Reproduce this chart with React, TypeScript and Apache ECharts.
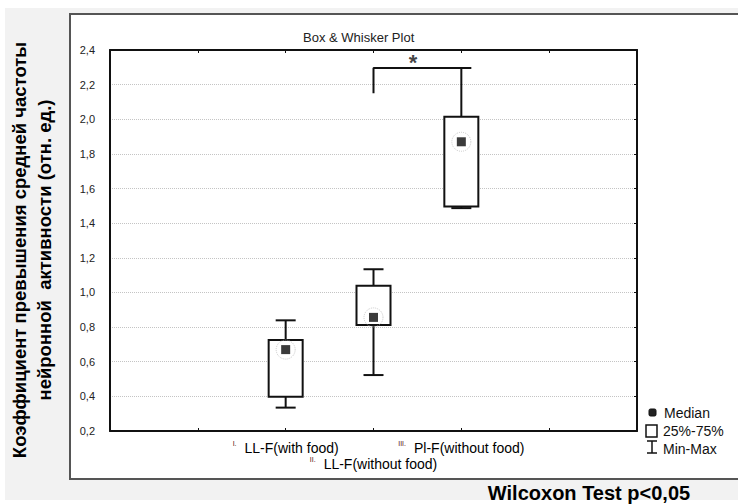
import React, { useEffect, useRef } from "react";
import * as echarts from "echarts";

// Group positions on the numeric x scale (0..6) and their labels
const positions = [2, 3, 4];
const romans = ["I.", "II.", "III."];
const categories = ["LL-F(with food)", "LL-F(without food)", "Pl-F(without food)"];

// Five-number summaries per group
const mins = [0.335, 0.523, 1.487];
const q1s = [0.398, 0.812, 1.497];
const medians = [0.67, 0.856, 1.87];
const q3s = [0.725, 1.039, 2.015];
const maxs = [0.839, 1.134, 2.296];

// Significance bracket between groups II and III
const bracketX = [3, 3, 4.1];
const bracketY = [2.15, 2.296, 2.296];
const starPoint = [3.45, 2.33];

const yMin = 0.2;
const yMax = 2.4;
const yStep = 0.2;

const FONT = "'Liberation Sans', Arial, sans-serif";

export default function App() {
  const ref = useRef<HTMLDivElement>(null);

  useEffect(() => {
    if (!ref.current) return;
    const chart = echarts.init(ref.current, null, { renderer: "svg" });

    const boxData = positions.map((p, i) => [p, mins[i], q1s[i], medians[i], q3s[i], maxs[i]]);
    const medianData = positions.map((p, i) => [p, medians[i]]);
    const bracketData = bracketX.map((x, i) => [x, bracketY[i]]);

    const labelFor = (idx: number) => `{r|${romans[idx]}}{t|${categories[idx]}}`;
    const richLabels = {
      r: { fontSize: 7, color: "#5a0f0f", verticalAlign: "top", padding: [0, 8, 8, 0], fontFamily: FONT },
      t: { fontSize: 14, color: "#000", fontFamily: FONT },
    };

    const option: any = {
      animation: false,
      textStyle: { fontFamily: FONT },
      title: {
        text: "Box & Whisker Plot",
        left: 298,
        top: 26,
        textStyle: { fontSize: 13, fontWeight: "normal", color: "#222", fontFamily: FONT },
      },
      grid: { left: 110, right: 101, top: 50, bottom: 73 },
      xAxis: [
        {
          type: "value",
          position: "bottom",
          min: 0,
          max: 6,
          interval: 1,
          axisLine: { show: true, onZero: false, lineStyle: { color: "#111", width: 2 } },
          axisTick: { show: true, inside: true, length: 3, lineStyle: { color: "#111" } },
          splitLine: { show: false },
          axisLabel: {
            margin: 9,
            rich: richLabels,
            formatter: (v: number) => {
              if (v === positions[0]) return labelFor(0);
              if (v === positions[2]) return labelFor(2);
              return "";
            },
          },
        },
        {
          type: "value",
          position: "top",
          min: 0,
          max: 6,
          interval: 1,
          axisLine: { show: true, onZero: false, lineStyle: { color: "#111", width: 2 } },
          axisTick: { show: true, inside: true, length: 3, lineStyle: { color: "#111" } },
          splitLine: { show: false },
          axisLabel: { show: false },
        },
        {
          type: "value",
          position: "bottom",
          min: 0,
          max: 6,
          interval: 1,
          axisLine: { show: false, onZero: false },
          axisTick: { show: false },
          splitLine: { show: false },
          axisLabel: {
            margin: 25,
            rich: richLabels,
            formatter: (v: number) => (v === positions[1] ? labelFor(1) : ""),
          },
        },
      ],
      yAxis: [
        {
          type: "value",
          position: "left",
          min: yMin,
          max: yMax,
          interval: yStep,
          axisLine: { show: true, onZero: false, lineStyle: { color: "#111", width: 2 } },
          axisTick: { show: false },
          splitLine: { show: true, lineStyle: { color: "#c4c4c4", type: "dotted", width: 1 } },
          axisLabel: {
            margin: 15,
            fontSize: 11,
            color: "#222",
            formatter: (v: number) => v.toFixed(1).replace(".", ","),
          },
        },
        {
          type: "value",
          position: "right",
          min: yMin,
          max: yMax,
          interval: yStep,
          axisLine: { show: true, onZero: false, lineStyle: { color: "#111", width: 2 } },
          axisTick: { show: true, inside: true, length: 3, lineStyle: { color: "#111" } },
          splitLine: { show: false },
          axisLabel: { show: false },
        },
      ],
      series: [
        {
          name: "Min-Max",
          type: "custom",
          xAxisIndex: 0,
          yAxisIndex: 0,
          z: 3,
          encode: { x: 0, y: [1, 2, 3, 4, 5] },
          data: boxData,
          renderItem: (params: any, api: any) => {
            const x = api.value(0);
            const pMin = api.coord([x, api.value(1)]);
            const pQ1 = api.coord([x, api.value(2)]);
            const pQ3 = api.coord([x, api.value(4)]);
            const pMax = api.coord([x, api.value(5)]);
            const cx = pMin[0];
            const bw = 34;
            const cw = 20;
            const stroke = { stroke: "#111", lineWidth: 2 };
            return {
              type: "group",
              children: [
                { type: "line", shape: { x1: cx, y1: pMax[1], x2: cx, y2: pQ3[1] }, style: stroke },
                { type: "line", shape: { x1: cx, y1: pQ1[1], x2: cx, y2: pMin[1] }, style: stroke },
                { type: "line", shape: { x1: cx - cw / 2, y1: pMax[1], x2: cx + cw / 2, y2: pMax[1] }, style: stroke },
                { type: "line", shape: { x1: cx - cw / 2, y1: pMin[1], x2: cx + cw / 2, y2: pMin[1] }, style: stroke },
                {
                  type: "rect",
                  shape: { x: cx - bw / 2, y: pQ3[1], width: bw, height: pQ1[1] - pQ3[1] },
                  style: { fill: "#fff", stroke: "#111", lineWidth: 2 },
                },
              ],
            };
          },
        },
        {
          name: "Median halo",
          type: "scatter",
          z: 4,
          data: medianData,
          symbol: "circle",
          symbolSize: 19,
          itemStyle: { color: "rgba(0,0,0,0)", borderColor: "#bdbdbd", borderWidth: 1, borderType: "dotted" },
        },
        {
          name: "Median",
          type: "scatter",
          z: 5,
          data: medianData,
          symbol: "rect",
          symbolSize: 9,
          itemStyle: { color: "#0a0a0a" },
        },
        {
          name: "Bracket",
          type: "line",
          z: 3,
          data: bracketData,
          symbol: "none",
          lineStyle: { color: "#111", width: 2 },
        },
        {
          name: "Significance",
          type: "scatter",
          z: 5,
          data: [starPoint],
          symbolSize: 0,
          label: {
            show: true,
            position: "inside",
            formatter: "*",
            fontSize: 22,
            fontWeight: "bold",
            color: "#111",
          },
        },
      ],
      graphic: [
        {
          type: "rect",
          z: -10,
          silent: true,
          shape: { x: 5, y: 8, width: 740, height: 492 },
          style: { fill: "#f2f2f2" },
        },
        {
          type: "rect",
          z: -9,
          silent: true,
          shape: { x: 70, y: 14, width: 720, height: 465 },
          style: { fill: "#fff", stroke: "#555", lineWidth: 2 },
        },
        {
          type: "text",
          x: 32,
          y: 250,
          rotation: Math.PI / 2,
          style: {
            text: "Коэффициент превышения средней частоты\nнейронной  активности (отн. ед.)",
            textAlign: "center",
            textVerticalAlign: "middle",
            fontSize: 18.5,
            fontWeight: "bold",
            fontFamily: FONT,
            lineHeight: 25,
            fill: "#000",
          },
        },
        {
          type: "text",
          x: 589,
          y: 493,
          style: {
            text: "Wilcoxon Test p<0,05",
            textAlign: "center",
            textVerticalAlign: "middle",
            fontSize: 20,
            fontWeight: "bold",
            fontFamily: FONT,
            fill: "#000",
          },
        },
        // legend
        {
          type: "rect",
          shape: { x: 649, y: 409, width: 7, height: 7, r: 1.5 },
          style: { fill: "#222", stroke: "#111", lineWidth: 1 },
        },
        {
          type: "rect",
          shape: { x: 646, y: 425, width: 11, height: 12 },
          style: { fill: "#fff", stroke: "#111", lineWidth: 1.5 },
        },
        { type: "line", shape: { x1: 647, y1: 441, x2: 657, y2: 441 }, style: { stroke: "#111", lineWidth: 1.5 } },
        { type: "line", shape: { x1: 652, y1: 441, x2: 652, y2: 453 }, style: { stroke: "#111", lineWidth: 1.5 } },
        { type: "line", shape: { x1: 647, y1: 453, x2: 657, y2: 453 }, style: { stroke: "#111", lineWidth: 1.5 } },
        {
          type: "text",
          x: 664,
          y: 413,
          style: { text: "Median", textVerticalAlign: "middle", fontSize: 14, fontFamily: FONT, fill: "#111" },
        },
        {
          type: "text",
          x: 663,
          y: 431,
          style: { text: "25%-75%", textVerticalAlign: "middle", fontSize: 14, fontFamily: FONT, fill: "#111" },
        },
        {
          type: "text",
          x: 663,
          y: 449,
          style: { text: "Min-Max", textVerticalAlign: "middle", fontSize: 14, fontFamily: FONT, fill: "#111" },
        },
      ],
    };

    chart.setOption(option);
    return () => chart.dispose();
  }, []);

  return (
    <div
      ref={ref}
      style={{ position: "fixed", left: 0, top: 0, width: 738, height: 504, background: "#fff" }}
    />
  );
}
